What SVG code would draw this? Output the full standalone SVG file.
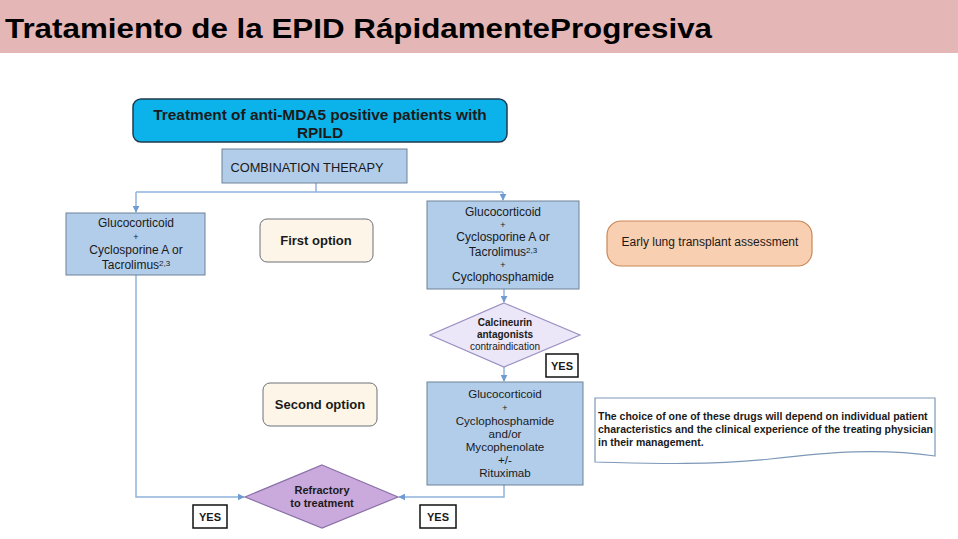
<svg xmlns="http://www.w3.org/2000/svg" width="958" height="539" viewBox="0 0 958 539">
<defs>
<marker id="arr" viewBox="0 0 10 10" refX="9" refY="5" markerWidth="7" markerHeight="7" orient="auto" markerUnits="userSpaceOnUse">
<path d="M0,0 L10,5 L0,10 z" fill="#6f9bd1"/>
</marker>
<style>
text{font-family:"Liberation Sans",Arial,sans-serif;fill:#1a1a1a;text-anchor:middle}
.t{font-size:12px}
.t2{font-size:11.6px}
.p{font-size:9px}
.sup{font-size:8px}
.b{font-weight:bold}
.box{fill:#b2cdea;stroke:#6d8296;stroke-width:1}
.con{fill:none;stroke:#8fb2dc;stroke-width:1.5}
.yes{fill:#fff;stroke:#111;stroke-width:1.5}
.opt{fill:#fdf6e8;stroke:#6b7078;stroke-width:1}
</style>
</defs>
<rect x="0" y="0" width="958" height="53" fill="#e4b6b6"/>
<text x="5" y="38" style="text-anchor:start;font-size:27px;font-weight:bold;fill:#000" textLength="707" lengthAdjust="spacingAndGlyphs">Tratamiento de la EPID RápidamenteProgresiva</text>

<g id="connectors">
<path class="con" d="M316,183 V192"/>
<path class="con" d="M136,192 H503"/>
<path class="con" d="M136,192 V212" marker-end="url(#arr)"/>
<path class="con" d="M503,192 V200" marker-end="url(#arr)"/>
<path class="con" d="M504,289 V302" marker-end="url(#arr)"/>
<path class="con" d="M504,367 V381" marker-end="url(#arr)"/>
<path class="con" d="M136,275 V497 H244" marker-end="url(#arr)"/>
<path class="con" d="M504,485 V497 H399" marker-end="url(#arr)"/>
</g>

<g id="n-title">
<rect x="133" y="99" width="374" height="43" rx="8" fill="#0cb3ea" stroke="#1f3b4d" stroke-width="1.5"/>
<text x="320" y="120" class="b" style="font-size:15.4px">Treatment of anti-MDA5 positive patients with</text>
<text x="320" y="138" class="b" style="font-size:15.4px">RPILD</text>
</g>

<g id="n-combination">
<rect x="222" y="149" width="185" height="34" class="box"/>
<text x="307" y="172" style="font-size:12.8px">COMBINATION THERAPY</text>
</g>

<g id="n-left">
<rect x="66" y="213" width="139" height="62" class="box"/>
<text x="136" y="227" class="t">Glucocorticoid</text>
<text x="136" y="240" class="p">+</text>
<text x="136" y="254" class="t">Cyclosporine A or</text>
<text x="136" y="269" class="t">Tacrolimus<tspan dy="-3.5" class="sup">2,3</tspan></text>
</g>

<g id="n-first">
<rect x="260" y="219" width="113" height="43" rx="7" class="opt"/>
<text x="316" y="245" class="b" style="font-size:13px">First option</text>
</g>

<g id="n-right1">
<rect x="427" y="201" width="152" height="88" class="box"/>
<text x="503" y="216" class="t">Glucocorticoid</text>
<text x="503" y="228" class="p">+</text>
<text x="503" y="241" class="t">Cyclosporine A or</text>
<text x="503" y="256" class="t">Tacrolimus<tspan dy="-3.5" class="sup">2,3</tspan></text>
<text x="503" y="268" class="p">+</text>
<text x="503" y="281" class="t">Cyclophosphamide</text>
</g>

<g id="n-transplant">
<rect x="607" y="221" width="205" height="45" rx="14" fill="#f8cfb1" stroke="#c98758" stroke-width="1.2"/>
<text x="710" y="246" style="font-size:12px">Early lung transplant assessment</text>
</g>

<g id="n-calcineurin">
<polygon points="504,303 580,335 504,367 430,335" fill="#ebe6f8" stroke="#9b90c2" stroke-width="1.2"/>
<text x="505" y="326" class="b" style="font-size:10px">Calcineurin</text>
<text x="505" y="338" class="b" style="font-size:10px">antagonists</text>
<text x="505" y="350" style="font-size:10px">contraindication</text>
</g>

<g id="n-yes1">
<rect x="546" y="354" width="32" height="23" class="yes"/>
<text x="562" y="370" class="b" style="font-size:11px">YES</text>
</g>

<g id="n-second">
<rect x="263" y="383" width="114" height="43" rx="7" class="opt"/>
<text x="320" y="409" class="b" style="font-size:13px">Second option</text>
</g>

<g id="n-right2">
<rect x="427" y="382" width="156" height="103" class="box"/>
<text x="505" y="398" class="t2">Glucocorticoid</text>
<text x="505" y="411" class="p">+</text>
<text x="505" y="425" class="t2">Cyclophosphamide</text>
<text x="505" y="438" class="t2">and/or</text>
<text x="505" y="451" class="t2">Mycophenolate</text>
<text x="505" y="464" class="t2">+/-</text>
<text x="505" y="477" class="t2">Rituximab</text>
</g>

<g id="n-note">
<path d="M595,398 H935 V456 C880,448 830,452 770,459 C700,466 640,463 595,462 Z" fill="#fff" stroke="#7d98b8" stroke-width="1.2"/>
<text x="598" y="420" style="text-anchor:start;font-size:10.5px" class="b">The choice of one of these drugs will depend on individual patient</text>
<text x="598" y="433" style="text-anchor:start;font-size:10.5px" class="b">characteristics and the clinical experience of the treating physician</text>
<text x="598" y="446" style="text-anchor:start;font-size:10.5px" class="b">in their management.</text>
</g>

<g id="n-refractory">
<polygon points="322,465 398,497 322,528 245,497" fill="#caa9dd" stroke="#8a70a8" stroke-width="1.2"/>
<text x="322" y="494" class="b" style="font-size:11px">Refractory</text>
<text x="322" y="507" class="b" style="font-size:11px">to treatment</text>
</g>

<g id="n-yes2">
<rect x="193" y="505" width="34" height="23" class="yes"/>
<text x="210" y="521" class="b" style="font-size:11px">YES</text>
</g>

<g id="n-yes3">
<rect x="420" y="505" width="36" height="23" class="yes"/>
<text x="438" y="521" class="b" style="font-size:11px">YES</text>
</g>
</svg>
